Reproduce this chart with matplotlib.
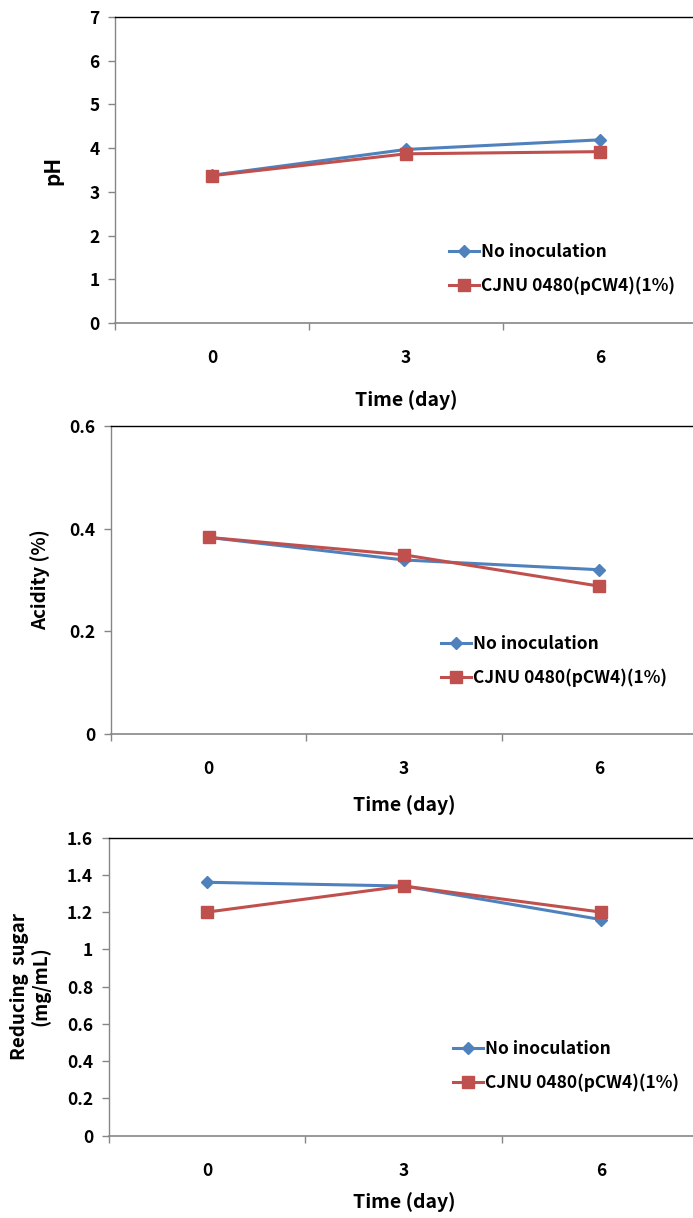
import matplotlib
matplotlib.use("Agg")
import matplotlib.pyplot as plt

plt.rcParams['font.family'] = ['Noto Sans CJK KR', 'DejaVu Sans']
plt.rcParams['font.weight'] = 'bold'

days = ["0", "3", "6"]
legend_labels = ["No inoculation", "CJNU 0480(pCW4)(1%)"]

ph_no = [3.38, 3.97, 4.19]
ph_cj = [3.37, 3.87, 3.92]

acid_no = [0.383, 0.339, 0.320]
acid_cj = [0.383, 0.349, 0.288]

sugar_no = [1.36, 1.34, 1.16]
sugar_cj = [1.20, 1.34, 1.20]

BLUE = "#4F81BD"
RED = "#C0504D"
W, H = 693, 1218

fig = plt.figure(figsize=(W / 100, H / 100), dpi=100)

panels = [
    dict(l=115, r=697, t=17, b=323, no=ph_no, cj=ph_cj, ylim=(0, 7),
         yt=[0, 1, 2, 3, 4, 5, 6, 7], ytl=["0", "1", "2", "3", "4", "5", "6", "7"],
         ylab="pH", ylx=53, leg=(449, 243), ylfs=15, xld=77),
    dict(l=111, r=697, t=426, b=734, no=acid_no, cj=acid_cj, ylim=(0, 0.6),
         yt=[0, 0.2, 0.4, 0.6], ytl=["0", "0.2", "0.4", "0.6"],
         ylab="Acidity (%)", ylx=40, leg=(441, 635), ylfs=13.5, xld=71),
    dict(l=108.5, r=699.5, t=837.6, b=1135.6, no=sugar_no, cj=sugar_cj, ylim=(0, 1.6),
         yt=[0, 0.2, 0.4, 0.6, 0.8, 1.0, 1.2, 1.4, 1.6],
         ytl=["0", "0.2", "0.4", "0.6", "0.8", "1", "1.2", "1.4", "1.6"],
         ylab="Reducing  sugar\n(mg/mL)", ylx=30, leg=(453, 1040), ylfs=13.5, xld=66),
]

for p in panels:
    ax = fig.add_axes([p['l'] / W, 1 - p['b'] / H, (p['r'] - p['l']) / W, (p['b'] - p['t']) / H])
    x = range(len(days))
    ax.plot(x, p['no'], color=BLUE, lw=2.2, marker='D', ms=6.2, mec=BLUE, mfc=BLUE,
            label=legend_labels[0])
    ax.plot(x, p['cj'], color=RED, lw=2.2, marker='s', ms=8, mec=RED, mfc=RED,
            label=legend_labels[1])
    ax.set_xlim(-0.5, 2.5)
    ax.set_ylim(*p['ylim'])
    ax.set_yticks(p['yt'])
    ax.set_yticklabels(p['ytl'])
    ax.set_xticks(list(x))
    ax.set_xticklabels(days)
    ax.set_xticks([-0.5, 0.5, 1.5, 2.5], minor=True)
    ax.tick_params(axis='x', which='major', length=0, pad=19, labelsize=12.5)
    ax.tick_params(axis='x', which='minor', length=5, width=1, color="#868686", direction='out')
    ax.tick_params(axis='y', length=5, width=1, color="#868686", pad=6, labelsize=12.5)
    for lab in ax.get_xticklabels() + ax.get_yticklabels():
        lab.set_fontweight('bold')
    ax.spines['right'].set_visible(False)
    ax.spines['left'].set_color("#868686")
    ax.spines['bottom'].set_color("#868686")
    ax.spines['top'].set_color("#000000")
    ax.spines['left'].set_linewidth(1)
    ax.spines['bottom'].set_linewidth(1.2)
    ax.spines['top'].set_linewidth(1)
    ax.spines['bottom'].set_zorder(0)

    hpx = p['b'] - p['t']
    wpx = p['r'] - p['l']
    ax.set_xlabel("Time (day)", fontsize=14, fontweight='bold', va='center')
    ax.xaxis.set_label_coords(0.5, -p['xld'] / hpx)
    ax.set_ylabel(p['ylab'], fontsize=p['ylfs'], fontweight='bold', va='center',
                  ha='center', multialignment='center', linespacing=1.1)
    ax.yaxis.set_label_coords((p['ylx'] - p['l']) / wpx, 0.5)

    lx, ly = p['leg']
    ax.legend(loc='upper left',
              bbox_to_anchor=((lx - p['l']) / wpx, 1 - (ly - p['t']) / hpx),
              frameon=False, handlelength=1.7, handletextpad=0.15,
              labelspacing=0.9, borderpad=0, borderaxespad=0,
              prop={'weight': 'bold', 'size': 12.5})

fig.savefig("out.png", dpi=100)
